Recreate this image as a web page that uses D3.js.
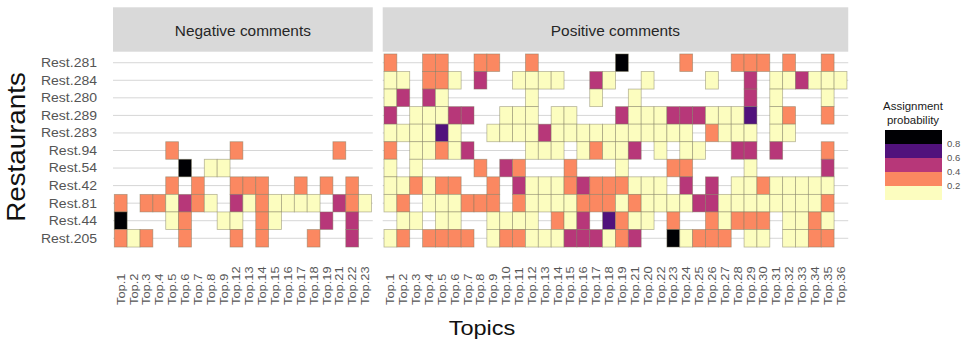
<!DOCTYPE html>
<html>
<head>
<meta charset="utf-8">
<script src="https://cdn.jsdelivr.net/npm/d3@7"></script>
<style>
  html, body { margin: 0; padding: 0; background: #ffffff; }
  svg { display: block; font-family: "Liberation Sans", Arial, sans-serif; }
</style>
</head>
<body>
<script>
const _ = null;

const restaurants = ["Rest.281","Rest.284","Rest.280","Rest.289","Rest.283","Rest.94","Rest.54","Rest.42","Rest.81","Rest.44","Rest.205"];

const negTopics = ["Top.1","Top.2","Top.3","Top.4","Top.5","Top.6","Top.7","Top.8","Top.9","Top.12",
                   "Top.13","Top.14","Top.15","Top.16","Top.17","Top.18","Top.19","Top.21","Top.22","Top.23"];

const posTopics = ["Top.1","Top.2","Top.3","Top.4","Top.5","Top.6","Top.7","Top.8","Top.9","Top.10",
                   "Top.11","Top.12","Top.13","Top.14","Top.15","Top.16","Top.17","Top.18","Top.19","Top.21",
                   "Top.20","Top.22","Top.23","Top.24","Top.25","Top.26","Top.27","Top.28","Top.29","Top.30",
                   "Top.31","Top.32","Top.33","Top.34","Top.35","Top.36"];

// assignment probabilities, one row per restaurant (null = no tile)
const negValues = [
  [_,_,_,_,_,_,_,_,_,_, _,_,_,_,_,_,_,_,_,_],
  [_,_,_,_,_,_,_,_,_,_, _,_,_,_,_,_,_,_,_,_],
  [_,_,_,_,_,_,_,_,_,_, _,_,_,_,_,_,_,_,_,_],
  [_,_,_,_,_,_,_,_,_,_, _,_,_,_,_,_,_,_,_,_],
  [_,_,_,_,_,_,_,_,_,_, _,_,_,_,_,_,_,_,_,_],
  [_,_,_,_,.3,_,_,_,_,.3, _,_,_,_,_,_,_,.3,_,_],
  [_,_,_,_,_,.9,_,.1,.1,_, _,_,_,_,_,_,_,_,_,_],
  [_,_,_,_,.3,_,.3,_,_,.3, .3,.3,_,_,.3,_,.3,_,.3,_],
  [.3,_,.3,.3,.1,.5,.3,.1,_,.5, .1,.3,.1,.1,.1,.1,_,.5,.3,.1],
  [.9,_,_,_,.1,.3,_,_,.1,.1, _,.3,.1,_,_,_,.5,_,.5,_],
  [.3,.1,.3,_,_,.3,_,_,_,.3, _,.3,_,_,_,.3,_,_,.5,_]
];

const posValues = [
  [.3,_,_,.3,.3,_,_,.3,.3,_, _,.3,_,_,_,_,_,_,.9,_, _,_,_,.3,_,_,_,.3,.3,.3, _,.3,_,_,.3,_],
  [.1,.1,_,.3,.3,.1,_,.5,_,_, .1,.1,.1,.1,_,_,.5,.1,_,_, .1,_,_,_,_,.1,_,_,.5,_, .1,.1,.5,.1,.1,.1],
  [.1,.5,_,.5,.1,_,_,_,_,_, _,.1,_,_,_,_,.1,_,_,.1, _,_,_,_,_,_,_,_,.5,_, .1,_,_,_,.1,_],
  [.5,_,.1,.1,.1,.5,.5,_,_,.1, .1,.1,_,.1,.1,_,_,_,.5,.1, .1,.1,.5,.5,.5,.1,.1,.1,.7,_, .1,.3,_,_,.3,_],
  [.1,.1,.1,.1,.7,.1,_,_,.1,.1, .1,.1,.5,.1,.1,.1,.1,.1,.1,.1, .1,.1,.1,.1,_,.3,.1,.1,.1,_, .1,.1,_,_,_,_],
  [.3,_,.1,.1,.3,.1,.5,_,_,_, _,.1,.1,.1,_,.1,.3,.1,.1,.5, _,.1,_,.1,.1,_,_,.5,.5,_, .5,_,_,_,.3,_],
  [.1,_,.1,_,_,_,_,.3,_,.5, .3,_,_,_,.3,_,_,_,.1,_, _,_,.3,.3,_,_,_,_,.1,_, _,_,_,_,.5,_],
  [.1,.1,.3,.1,.3,.3,_,_,.3,_, .5,.1,.1,.1,.3,.5,.3,.3,.3,.1, .1,.1,_,.5,_,.5,_,.1,.1,.3, .1,.1,.1,.1,.1,_],
  [.1,.3,_,.1,.1,.1,.3,.3,.3,_, .3,.1,.1,.1,.1,.3,.3,.3,.1,.3, .1,.1,.1,.1,.5,.5,.1,.1,.1,.1, .1,.1,.1,.1,.3,_],
  [_,.1,.1,_,.1,.1,_,_,.1,.1, .1,.1,_,.3,.1,.5,_,.7,.3,.1, .1,_,.3,_,_,.3,.1,.3,.3,.3, _,.1,.1,.3,.1,_],
  [.1,.3,_,.3,.3,.3,.3,_,.1,.3, .3,.1,.1,.1,.5,.5,.5,.1,.3,.5, _,_,.9,.1,.3,.3,.3,_,.1,.1, _,.1,.1,.3,.3,_]
];

const panelNames = ["Negative comments", "Positive comments"];
const legendBreaks = [0.2, 0.4, 0.6, 0.8];
const legendLabels = ["0.2", "0.4", "0.6", "0.8"];
const binColors = ["#FCFDBF", "#FB8861", "#B73779", "#51127C", "#000004"];

// ---------------------------------------------------------------
const W = 965, H = 342;
const svg = d3.select("body").append("svg").attr("width", W).attr("height", H);

function stretch(sel, f) {
  sel.each(function () {
    const l = this.getComputedTextLength();
    this.setAttribute("textLength", l * f);
    this.setAttribute("lengthAdjust", "spacingAndGlyphs");
  });
}

const color = d3.scaleThreshold().domain(legendBreaks).range(binColors);

const step = 12.86;
const panelTop = 52.2, panelBottom = 248.8;
const stripTop = 7.3;

const y = d3.scaleBand().domain(restaurants).range([panelTop, panelBottom]).paddingInner(0).paddingOuter(0.1);

const panels = [
  { name: panelNames[0], topics: negTopics, values: negValues, x0: 113 },
  { name: panelNames[1], topics: posTopics, values: posValues, x0: 382.7 }
];

panels.forEach(p => {
  const w = (p.topics.length + 0.2) * step;
  const x = d3.scaleBand().domain(p.topics).range([p.x0, p.x0 + w]).paddingInner(0).paddingOuter(0.1);
  const g = svg.append("g");

  // strip
  g.append("rect").attr("x", p.x0).attr("y", stripTop).attr("width", w).attr("height", panelTop - stripTop - 0.5)
    .attr("fill", "#d9d9d9");
  g.append("text").attr("x", p.x0 + w / 2).attr("y", 36).attr("text-anchor", "middle")
    .attr("font-size", 14).attr("fill", "#262626").text(p.name)
    .call(stretch, 1.1);

  // gridlines
  g.selectAll("line.grid").data(restaurants).join("line")
    .attr("x1", p.x0).attr("x2", p.x0 + w)
    .attr("y1", d => y(d) + y.bandwidth() / 2).attr("y2", d => y(d) + y.bandwidth() / 2)
    .attr("stroke", "#d6d6d6").attr("stroke-width", 1);

  // tiles
  const cells = [];
  p.values.forEach((row, i) => row.forEach((v, j) => {
    if (v !== null) cells.push({ r: restaurants[i], t: p.topics[j], v });
  }));
  g.selectAll("rect.tile").data(cells).join("rect")
    .attr("x", d => x(d.t)).attr("y", d => y(d.r))
    .attr("width", x.bandwidth()).attr("height", y.bandwidth())
    .attr("fill", d => color(d.v))
    .attr("stroke", "#7d7a5e").attr("stroke-opacity", 0.55).attr("stroke-width", 0.8);

  // x axis labels (rotated)
  g.selectAll("text.xl").data(p.topics).join("text")
    .attr("transform", d => `translate(${x(d) + x.bandwidth() / 2},305) rotate(-90)`)
    .attr("dy", "0.35em").attr("text-anchor", "start")
    .attr("font-size", 11.5).attr("fill", "#555555").text(d => d)
    .call(stretch, 1.12);
});

// y axis labels
svg.selectAll("text.yl").data(restaurants).join("text")
  .attr("x", 97).attr("y", d => y(d) + y.bandwidth() / 2).attr("dy", "0.35em")
  .attr("text-anchor", "end").attr("font-size", 12.5).attr("fill", "#555555").text(d => d)
  .call(stretch, 1.12);

// axis titles
svg.append("text").attr("transform", "translate(25,147) rotate(-90)").attr("text-anchor", "middle")
  .attr("font-size", 25).attr("fill", "#111").text("Restaurants").call(stretch, 1.11);
svg.append("text").attr("x", 482).attr("y", 335).attr("text-anchor", "middle")
  .attr("font-size", 21).attr("fill", "#111").text("Topics").call(stretch, 1.12);

// legend
const ly = d3.scaleLinear().domain([0, 1]).range([200, 130]);
const bins = [0].concat(legendBreaks).map((b, i, arr) => [b, i < arr.length - 1 ? arr[i + 1] : 1]);
const lg = svg.append("g");
lg.append("text").attr("x", 913).attr("y", 110).attr("text-anchor", "middle").attr("font-size", 11)
  .attr("fill", "#1a1a1a").text("Assignment").call(stretch, 1.04);
lg.append("text").attr("x", 913).attr("y", 123.5).attr("text-anchor", "middle").attr("font-size", 11)
  .attr("fill", "#1a1a1a").text("probability").call(stretch, 1.04);
lg.selectAll("rect").data(bins).join("rect")
  .attr("x", 885).attr("width", 57)
  .attr("y", d => ly(d[1])).attr("height", d => ly(d[0]) - ly(d[1]))
  .attr("fill", d => color((d[0] + d[1]) / 2));
lg.selectAll("text.ll").data(legendBreaks).join("text")
  .attr("x", 947).attr("y", d => ly(d)).attr("dy", "0.35em")
  .attr("font-size", 9.5).attr("fill", "#555555").text((d, i) => legendLabels[i]);
</script>
</body>
</html>
